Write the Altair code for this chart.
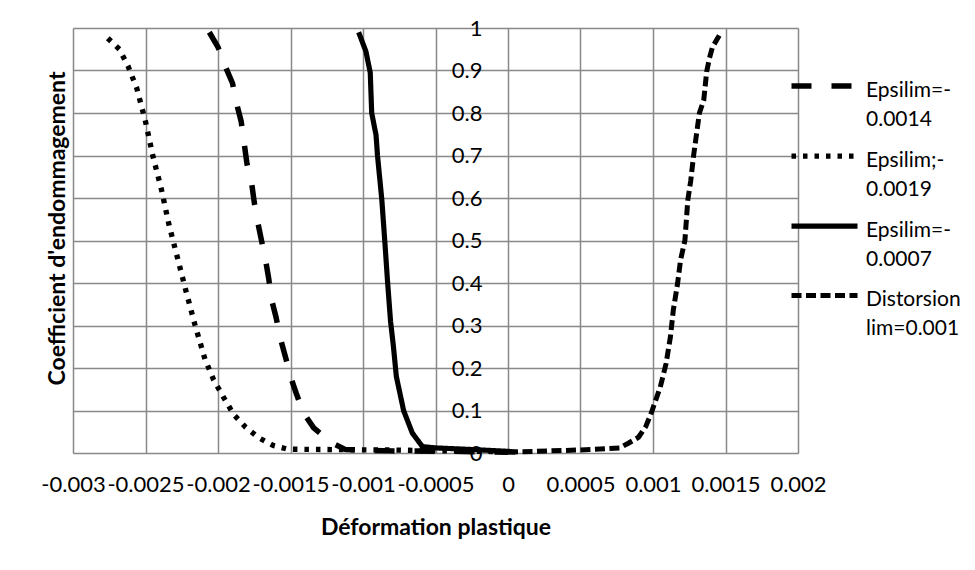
import altair as alt
import pandas as pd

series_names = ["Epsilim=- 0.0014", "Epsilim;- 0.0019", "Epsilim=- 0.0007", "Distorsion lim=0.001"]

x1 = [-0.00206, -0.00200, -0.00195, -0.00190, -0.00187, -0.00184, -0.00182, -0.00180, -0.00177,
      -0.00175, -0.00173, -0.00170, -0.00167, -0.00165, -0.00163, -0.00160, -0.00157, -0.00153,
      -0.00150, -0.00146, -0.00141, -0.00134, -0.00121, -0.00112, -0.00080, -0.00040, 0.0]
y1 = [0.99, 0.955, 0.91, 0.87, 0.82, 0.78, 0.73, 0.68, 0.64, 0.59, 0.55, 0.50, 0.45, 0.41, 0.36,
      0.32, 0.27, 0.22, 0.18, 0.14, 0.094, 0.059, 0.023, 0.008, 0.005, 0.004, 0.002]

x2 = [-0.00276, -0.00268, -0.00262, -0.00256, -0.00250, -0.00245, -0.00239, -0.00234, -0.00228,
      -0.00222, -0.00216, -0.00209, -0.00203, -0.00196, -0.00189, -0.00181, -0.00172, -0.00162,
      -0.00152, -0.00120, -0.00080, -0.00040, 0.0]
y2 = [0.976, 0.95, 0.91, 0.858, 0.78, 0.70, 0.62, 0.54, 0.46, 0.38, 0.303, 0.221, 0.172, 0.13,
      0.09, 0.061, 0.036, 0.018, 0.009, 0.008, 0.007, 0.005, 0.003]

x3 = [-0.00103, -0.00098, -0.00095, -0.00094, -0.00091, -0.00090, -0.00087, -0.00085, -0.00083,
      -0.00081, -0.00079, -0.00077, -0.00072, -0.00066, -0.00059, -0.00050, -0.00030, 0.0, 0.00005]
y3 = [0.99, 0.945, 0.895, 0.80, 0.748, 0.70, 0.595, 0.50, 0.40, 0.31, 0.25, 0.18, 0.10, 0.047,
      0.015, 0.012, 0.009, 0.004, 0.002]

x4 = [0.0, 0.00049, 0.00077, 0.00083, 0.00090, 0.00095, 0.00099, 0.00105, 0.00109, 0.00112,
      0.00114, 0.00117, 0.00119, 0.00122, 0.00124, 0.00126, 0.00128, 0.00130, 0.00132, 0.00135,
      0.00137, 0.00139, 0.00141, 0.00147]
y4 = [0.002, 0.007, 0.012, 0.023, 0.037, 0.062, 0.096, 0.155, 0.21, 0.273, 0.336, 0.40, 0.454,
      0.50, 0.595, 0.64, 0.70, 0.75, 0.80, 0.83, 0.897, 0.93, 0.955, 0.99]

x_ticks = [-0.003, -0.0025, -0.002, -0.0015, -0.001, -0.0005, 0.0, 0.0005, 0.001, 0.0015, 0.002]
y_ticks = [0.0, 0.1, 0.2, 0.3, 0.4, 0.5, 0.6, 0.7, 0.8, 0.9, 1.0]
x_title = "Déformation plastique"
y_title = "Coefficient d'endommagement"

rows = []
for name, xs, ys in zip(series_names, [x1, x2, x3, x4], [y1, y2, y3, y4]):
    for i, (a, b) in enumerate(zip(xs, ys)):
        rows.append({"series": name, "xv": a, "yv": b, "idx": i})
df = pd.DataFrame(rows)

dash_range = [[20, 20], [4.5, 7], [1, 0], [10, 4.5]]
width_range = [5.5, 5, 3, 3.6]

FONT = "Lato"
GRID = "#898989"

legend_kw = dict(
    title=None, orient="none", legendX=732, legendY=43, padding=0, rowPadding=11,
    labelOffset=22, symbolSize=1089, symbolType="M-2,-0.27L2,-0.27",
    symbolStrokeColor="black", labelFont=FONT, labelFontSize=21, labelColor="black",
    labelLimit=300, labelExpr="split(datum.label, ' ')",
)

chart = alt.Chart(df).mark_line(color="black", strokeJoin="round").encode(
    x=alt.X("xv:Q", scale=alt.Scale(domain=[-0.003, 0.002], nice=False, zero=False),
            axis=alt.Axis(values=x_ticks, title=x_title, grid=True, ticks=False, domain=False,
                          labelExpr="replace(format(datum.value, '~g'), '\u2212', '-')",
                          labelOverlap=False, labelFlush=False, labelPadding=21,
                          labelFontSize=22, labelFont=FONT,
                          labelColor="black", titleFont=FONT, titleFontSize=23,
                          titleFontWeight="bold", titleColor="black", titleY=74,
                          titleBaseline="middle", gridColor=GRID, gridWidth=1.5, gridOpacity=1)),
    y=alt.Y("yv:Q", scale=alt.Scale(domain=[0, 1], nice=False, zero=False),
            axis=alt.Axis(values=y_ticks, orient="left", offset=-435, title=y_title, grid=True,
                          ticks=False, domain=False,
                          labelExpr="replace(format(datum.value, '~g'), '\u2212', '-')",
                          labelPadding=26, labelFontSize=22, labelFont=FONT, labelColor="black",
                          labelOverlap=False, labelFlush=False,
                          titleFont=FONT, titleFontSize=23, titleFontWeight="bold",
                          titleColor="black", titleX=-451, titleY=200, titleAngle=270,
                          titleBaseline="middle", titleAlign="center",
                          gridColor=GRID, gridWidth=1.5, gridOpacity=1)),
    strokeDash=alt.StrokeDash("series:N", scale=alt.Scale(domain=series_names, range=dash_range),
                              legend=alt.Legend(**legend_kw)),
    strokeWidth=alt.StrokeWidth("series:N", scale=alt.Scale(domain=series_names, range=width_range),
                                legend=alt.Legend(**legend_kw)),
    order=alt.Order("idx:Q"),
).properties(
    width=725, height=425,
    autosize=alt.AutoSizeParams(type="none"),
    padding={"left": 65, "top": 20, "right": 169, "bottom": 105},
).configure_view(stroke=None).configure(
    background="white",
    style={"guide-label": {"lineHeight": 29}},
)

chart.save("out.html", embed_options={"renderer": "svg", "actions": False})
